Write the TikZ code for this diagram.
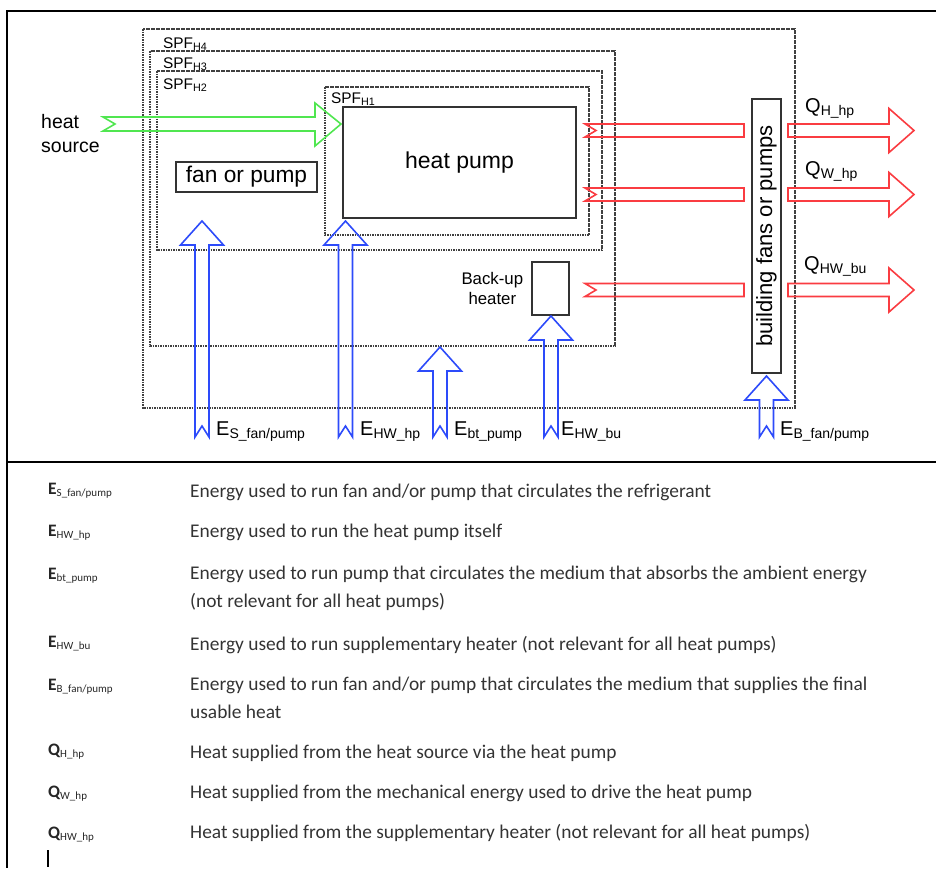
\documentclass[tikz,border=0pt]{standalone}
\usepackage{fontspec}
\setmainfont{Liberation Sans}
\newfontfamily\tablefont{Carlito}
\usepackage{tikz}
\usetikzlibrary{positioning}
\definecolor{energyblue}{RGB}{45,75,250}
\definecolor{heatred}{RGB}{250,60,65}
\definecolor{sourcegreen}{RGB}{80,230,80}
\newcommand{\tsym}[2]{{\bfseries #1}\raisebox{-2pt}{\fontsize{11}{12}\selectfont #2}}

\begin{document}
\begin{tikzpicture}[x=1pt, y=-1pt,
    spf/.style={draw=black!75, line width=1.1pt, dash pattern=on 1.6pt off 0.9pt},
    box/.style={draw=black!80, line width=1.3pt, inner sep=0pt},
    lbl/.style={anchor=base west, inner sep=0pt},
    energy/.style={draw=energyblue, line width=1.6pt},
    heatout/.style={draw=heatred, line width=1.6pt},
    source/.style={draw=sourcegreen, line width=1.6pt},
    sym/.style={anchor=base west, inner sep=0pt, text=black!85, font=\tablefont\fontsize{17.5}{18}\selectfont},
    desc/.style={anchor=base west, inner sep=0pt, align=left, text=black!80,
        font=\tablefont\fontsize{19.4}{27.5}\selectfont},
]
\useasboundingbox (0,0) rectangle (936,868);

% frame
\draw[line width=2.4pt] (936,11) -- (7,11) -- (7,868);
\draw[line width=2.4pt] (7,462) -- (936,462);

% system boundaries
\draw[spf] (143,29) rectangle (795,408);
\draw[spf] (150,51) rectangle (615,346);
\draw[spf] (157,71) rectangle (602,250);
\draw[spf] (325,87) rectangle (589,235);
\node[lbl, font=\fontsize{15.4}{18}\selectfont] (spf4) at (163,48) {SPF\textsubscript{H4}};
\node[lbl, font=\fontsize{15.4}{18}\selectfont] (spf3) at (163,68) {SPF\textsubscript{H3}};
\node[lbl, font=\fontsize{15.4}{18}\selectfont] (spf2) at (163,89) {SPF\textsubscript{H2}};
\node[lbl, font=\fontsize{15.4}{18}\selectfont] (spf1) at (331,103) {SPF\textsubscript{H1}};

% components
\node[box, minimum width=233pt, minimum height=111pt, font=\fontsize{23}{27}\selectfont] (hp) at (459.5,162.5) {heat pump};
\node[box, minimum width=141pt, minimum height=30pt, font=\fontsize{22.7}{27}\selectfont] (fan) at (246.5,177) {fan or pump};
\node[box, minimum width=37pt, minimum height=53pt] (bu) at (550.5,288.5) {};
\node[left=8pt of bu, inner sep=0pt, align=center, font=\fontsize{16.8}{20}\selectfont] (bulabel) {Back-up\\heater};
\node[box, rotate=90, minimum width=274pt, minimum height=29pt, font=\fontsize{22}{26}\selectfont] (bldg) at (766.5,236) {building fans or pumps};

\node[lbl, align=left, font=\fontsize{19.5}{24}\selectfont] (src) at (41,152) {heat\\source};

% heat flows
\draw[source] (103,117) -- (315,117) -- (315,103) -- (341,124) -- (315,146) -- (315,131) -- (103,131) -- (115,124) -- cycle;
\foreach \y in {130.5, 194.5, 290} {
  \draw[heatout] (585,\y-6.5) -- (744,\y-6.5) -- (744,\y+6.5) -- (585,\y+6.5) -- (596,\y) -- cycle;
  \draw[heatout] (788,\y-6.5) -- (889,\y-6.5) -- (889,\y-22) -- (914,\y) -- (889,\y+22) -- (889,\y+6.5) -- (788,\y+6.5) -- cycle;
}
\node[lbl, font=\fontsize{20}{24}\selectfont] (qh) at (805,112) {Q\textsubscript{H\_hp}};
\node[lbl, font=\fontsize{20}{24}\selectfont] (qw) at (805,175) {Q\textsubscript{W\_hp}};
\node[lbl, font=\fontsize{20}{24}\selectfont] (qhw) at (804,270) {Q\textsubscript{HW\_bu}};

% energy inputs
\foreach \x/\t in {202/221, 345.5/221, 440/347, 551/316, 766.5/376}
  \draw[energy] (\x-7,437) -- (\x-7,\t+24) -- (\x-21.5,\t+24) -- (\x,\t) -- (\x+21.5,\t+24) -- (\x+7,\t+24) -- (\x+7,437) -- (\x,426) -- cycle;
\node[lbl, font=\fontsize{20}{24}\selectfont] (es) at (216,435) {E\textsubscript{S\_fan/pump}};
\node[lbl, font=\fontsize{20}{24}\selectfont] (ehw) at (360,435) {E\textsubscript{HW\_hp}};
\node[lbl, font=\fontsize{20}{24}\selectfont] (ebt) at (454,435) {E\textsubscript{bt\_pump}};
\node[lbl, font=\fontsize{20}{24}\selectfont] (ebu) at (561,435) {E\textsubscript{HW\_bu}};
\node[lbl, font=\fontsize{20}{24}\selectfont] (eb) at (780,435) {E\textsubscript{B\_fan/pump}};

% legend
\node[sym] (s1) at (48,494) {\tsym{E}{S\_fan/pump}};
\node[desc] (d1) at (190,497) {Energy used to run fan and/or pump that circulates the refrigerant};
\node[sym] (s2) at (48,536) {\tsym{E}{HW\_hp}};
\node[desc] (d2) at (190,537) {Energy used to run the heat pump itself};
\node[sym] (s3) at (48,579) {\tsym{E}{bt\_pump}};
\node[desc] (d3) at (190,607) {Energy used to run pump that circulates the medium that absorbs the ambient energy\\(not relevant for all heat pumps)};
\node[sym] (s4) at (48,647) {\tsym{E}{HW\_bu}};
\node[desc] (d4) at (190,650) {Energy used to run supplementary heater (not relevant for all heat pumps)};
\node[sym] (s5) at (48,690) {\tsym{E}{B\_fan/pump}};
\node[desc] (d5) at (190,718) {Energy used to run fan and/or pump that circulates the medium that supplies the final\\usable heat};
\node[sym] (s6) at (48,755) {\tsym{Q}{H\_hp}};
\node[desc] (d6) at (190,758) {Heat supplied from the heat source via the heat pump};
\node[sym] (s7) at (48,797) {\tsym{Q}{W\_hp}};
\node[desc] (d7) at (190,798) {Heat supplied from the mechanical energy used to drive the heat pump};
\node[sym] (s8) at (48,838) {\tsym{Q}{HW\_hp}};
\node[desc] (d8) at (190,838) {Heat supplied from the supplementary heater (not relevant for all heat pumps)};
\draw[line width=1.2pt] (48,850) -- (48,867);
\end{tikzpicture}
\end{document}
